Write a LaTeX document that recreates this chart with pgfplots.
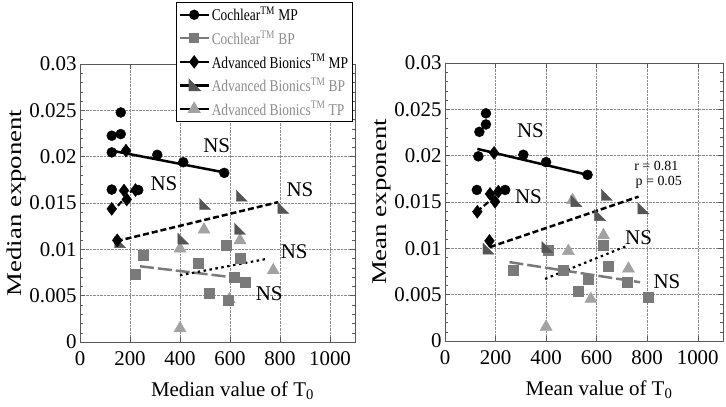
\documentclass[border=0pt]{standalone}
\usepackage{fontspec}
\setmainfont{Liberation Serif}
\usepackage{pgfplots}
\pgfplotsset{compat=1.18}
\definecolor{cbp}{HTML}{7A7A7A}
\definecolor{abbp}{HTML}{555555}
\definecolor{abtp}{HTML}{A2A2A2}
\definecolor{legg}{HTML}{8C8C8C}

\pgfdeclareplotmark{rtri}{%
 \pgfpathmoveto{\pgfqpoint{-\pgfplotmarksize}{\pgfplotmarksize}}%
 \pgfpathlineto{\pgfqpoint{-\pgfplotmarksize}{-\pgfplotmarksize}}%
 \pgfpathlineto{\pgfqpoint{\pgfplotmarksize}{-\pgfplotmarksize}}%
 \pgfpathclose\pgfusepathqfillstroke}

\tikzset{ns/.style={font=\fontsize{21}{24}\selectfont}}
\newcommand{\legtxt}[1]{\scalebox{1}[1.22]{#1}}

\pgfplotsset{
 myax/.style={
  scale only axis, width=275bp, height=278bp,
  xmin=0, xmax=1100, ymin=0, ymax=0.03,
  scaled y ticks=false, scaled x ticks=false,
  xtick={0,200,400,600,800,1000},
  xticklabels={0,200,400,600,800,1000},
  ytick={0,0.005,0.01,0.015,0.02,0.025,0.03},
  yticklabels={0,0.005,0.01,0.015,0.02,0.025,0.03},
  minor y tick num=4,
  grid=major, major grid style={densely dotted, black!45},
  tick align=inside, tick pos=both,
  axis line style={black!65, line width=0.8bp},
  major tick length=5bp, minor tick length=3bp,
  every tick/.style={black!65},
  tick label style={font=\fontsize{21}{23}\selectfont},
  xticklabel style={yshift=-6bp},
  label style={font=\fontsize{21}{24}\selectfont},
  xlabel style={xshift=15bp, yshift=-9bp},
  ylabel style={yshift=-3bp},
 },
 cmp/.style={only marks, mark=*, mark size=5bp, black, forget plot},
 abmp/.style={only marks, mark=diamond*, mark size=6.5bp, black, forget plot},
 cbpm/.style={only marks, mark=square*, mark size=5bp, draw=cbp, fill=cbp, forget plot},
 abbpm/.style={only marks, mark=rtri, mark size=5.5bp, draw=abbp, fill=abbp, forget plot},
 abtpm/.style={only marks, mark=triangle*, mark size=7bp, draw=abtp, fill=abtp, forget plot},
 dsh/.style={dash pattern=on 6bp off 3bp},
 dtt/.style={dash pattern=on 2.5bp off 3.5bp},
 ldsh/.style={dash pattern=on 14bp off 4bp},
}

\begin{document}
\begin{tikzpicture}
\path[use as bounding box] (0,0) rectangle (726bp,407bp);

% ---------------- Left panel ----------------
\begin{axis}[myax, at={(80bp,65bp)}, anchor=south west,
  xlabel={Median value of T\textsubscript{0}},
  ylabel={\scalebox{1.28}[1]{Median exponent}},
  legend style={at={(0.349,1.223)}, anchor=north west, draw=black, line width=1.2bp,
    fill=white, font=\fontsize{13.5}{15}\selectfont, row sep=4.2bp, inner xsep=2bp, inner ysep=2.5bp},
  legend cell align=left,
  legend image code/.code={%
    \draw[#1] (0bp,0bp) -- (29bp,0bp);
    \draw[#1, solid, mark repeat=2, mark phase=2] plot coordinates {(0bp,0bp) (14.5bp,0bp) (29bp,0bp)};}
]
\addlegendimage{black, line width=2.2bp, mark=*, mark size=4bp, mark options={solid}}
\addlegendentry{\legtxt{Cochlear\textsuperscript{TM} MP}}
\addlegendimage{cbp, line width=2.2bp, dash pattern=on 9bp off 3bp, mark=square*, mark size=4bp, mark options={solid, fill=cbp}}
\addlegendentry{\legtxt{\textcolor{legg}{Cochlear\textsuperscript{TM} BP}}}
\addlegendimage{black, line width=2.2bp, mark=diamond*, mark size=5bp, mark options={solid}}
\addlegendentry{\legtxt{Advanced Bionics\textsuperscript{TM} MP}}
\addlegendimage{black, dsh, line width=2.2bp, mark=rtri, mark size=4.5bp, mark options={solid, draw=abbp, fill=abbp}}
\addlegendentry{\legtxt{\textcolor{legg}{Advanced Bionics\textsuperscript{TM} BP}}}
\addlegendimage{black, dtt, line width=2.2bp, mark=triangle*, mark size=5.5bp, mark options={solid, draw=abtp, fill=abtp}}
\addlegendentry{\legtxt{\textcolor{legg}{Advanced Bionics\textsuperscript{TM} TP}}}

% regression lines
\addplot[black, line width=2.5bp, forget plot] coordinates {(127,0.02065) (577,0.0183)};
\addplot[black, dsh, line width=2.2bp, forget plot] coordinates {(127,0.0140) (227,0.0169)};
\addplot[black, dsh, line width=2.5bp, forget plot] coordinates {(147,0.01089) (793,0.01509)};
\addplot[cbp, ldsh, line width=2.5bp, forget plot] coordinates {(240,0.00817) (653,0.00685)};
\addplot[black, dtt, line width=2.2bp, forget plot] coordinates {(400,0.0072) (753,0.009)};

% markers
\addplot[abtpm] coordinates {(496,0.01212) (400,0.01007) (640,0.01097) (773,0.00774) (597,0.00459) (400,0.00147)};
\addplot[cbpm] coordinates {(251,0.00935) (220,0.00728) (471,0.00846) (583,0.01043) (640,0.009) (616,0.00696) (660,0.00649) (517,0.0053) (591,0.00452)};
\addplot[abbpm] coordinates {(160,0.01078) (413,0.01115) (500,0.01491) (647,0.0158) (640,0.01222) (813,0.01448)};
\addplot[cmp] coordinates {(127,0.02226) (163,0.02244) (163,0.02477) (127,0.02046) (309,0.0202) (413,0.0194) (577,0.01825) (127,0.01645) (233,0.0164)};
\addplot[abmp] coordinates {(184,0.02065) (127,0.01437) (187,0.01538) (176,0.01634) (222,0.0164) (149,0.01097)};

\node[ns] at (axis cs:547,0.02115) {NS};
\node[ns] at (axis cs:336,0.01706) {NS};
\node[ns] at (axis cs:880,0.01645) {NS};
\node[ns] at (axis cs:857,0.0097) {NS};
\node[ns] at (axis cs:757,0.00523) {NS};
\end{axis}

% ---------------- Right panel ----------------
\begin{axis}[myax, width=278bp, at={(445bp,66bp)}, anchor=south west,
  xlabel={Mean value of T\textsubscript{0}},
  ylabel={\scalebox{1.28}[1]{Mean exponent}}]
\addplot[black, line width=2.5bp, forget plot] coordinates {(128,0.02073) (564,0.01793)};
\addplot[black, dsh, line width=2.2bp, forget plot] coordinates {(126,0.01395) (238,0.0165)};
\addplot[black, dsh, line width=2.5bp, forget plot] coordinates {(178,0.01014) (766,0.01558)};
\addplot[cbp, ldsh, line width=2.5bp, forget plot] coordinates {(255,0.00851) (772,0.00634)};
\addplot[black, dtt, line width=2.2bp, forget plot] coordinates {(396,0.0067) (726,0.01033)};

\addplot[abtpm] coordinates {(505,0.0152) (488,0.0097) (627,0.01141) (726,0.0078) (577,0.00453) (400,0.00152)};
\addplot[cbpm] coordinates {(271,0.00761) (469,0.00761) (409,0.00978) (627,0.01033) (647,0.00808) (568,0.0067) (528,0.00536) (720,0.00634) (805,0.00471)};
\addplot[abbpm] coordinates {(172,0.00997) (405,0.01014) (520,0.0151) (640,0.01576) (614,0.01359) (785,0.01432)};
\addplot[cmp] coordinates {(162,0.02457) (162,0.02337) (136,0.02257) (132,0.01993) (310,0.0201) (400,0.0193) (564,0.01793) (126,0.0163) (238,0.0163)};
\addplot[abmp] coordinates {(194,0.0203) (128,0.01395) (178,0.01587) (198,0.01503) (211,0.01612) (176,0.0108)};

\node[ns] at (axis cs:338,0.02272) {NS};
\node[ns] at (axis cs:330,0.01558) {NS};
\node[ns] at (axis cs:766,0.01116) {NS};
\node[ns] at (axis cs:878,0.00641) {NS};
\node[font=\fontsize{14}{16}\selectfont] at (axis cs:836,0.01884) {r = 0.81};
\node[font=\fontsize{14}{16}\selectfont] at (axis cs:846,0.0171) {p = 0.05};
\end{axis}
\end{tikzpicture}
\end{document}
